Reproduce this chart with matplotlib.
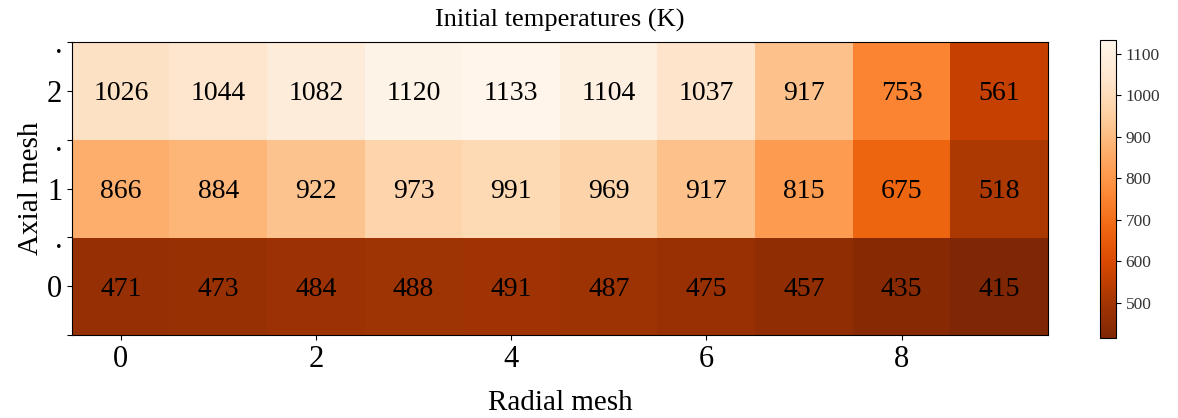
import numpy as np
import matplotlib.pyplot as plt

plt.rcParams['font.family'] = ['Liberation Serif', 'DejaVu Serif']

radial = np.arange(10)
axial = np.arange(3)
row0 = [471, 473, 484, 488, 491, 487, 475, 457, 435, 415]
row1 = [866, 884, 922, 973, 991, 969, 917, 815, 675, 518]
row2 = [1026, 1044, 1082, 1120, 1133, 1104, 1037, 917, 753, 561]
temps = np.array([row0, row1, row2])

fig = plt.figure(figsize=(11.78, 4.18), dpi=100)
ax = fig.add_axes([72 / 1178, 1 - 335 / 418, 976 / 1178, 293 / 418])
cax = fig.add_axes([1100 / 1178, 1 - 338 / 418, 16 / 1178, 298 / 418])

im = ax.imshow(temps, cmap='Oranges_r', origin='lower', aspect='auto',
               vmin=temps.min(), vmax=temps.max())

for i in axial:
    for j in radial:
        ax.text(j, i, str(temps[i, j]), ha='center', va='center_baseline', fontsize=20)

ax.set_xticks([0, 2, 4, 6, 8])
ax.set_xticklabels(['0', '2', '4', '6', '8'], fontsize=22)
ax.set_yticks([-0.5, 0, 0.5, 1, 1.5, 2, 2.5])
ax.set_yticklabels(['', '0', '.', '1', '.', '2', '.'], fontsize=22)
ax.set_xlabel('Radial mesh', fontsize=21, labelpad=12)
ax.set_ylabel('Axial mesh', fontsize=21, labelpad=2)
ax.set_title('Initial temperatures (K)', fontsize=19, pad=11)

cb = fig.colorbar(im, cax=cax)
cb.set_ticks([500, 600, 700, 800, 900, 1000, 1100])
cb.ax.tick_params(labelsize=12.5, labelcolor='#333333')

fig.savefig('out.png', dpi=100)
